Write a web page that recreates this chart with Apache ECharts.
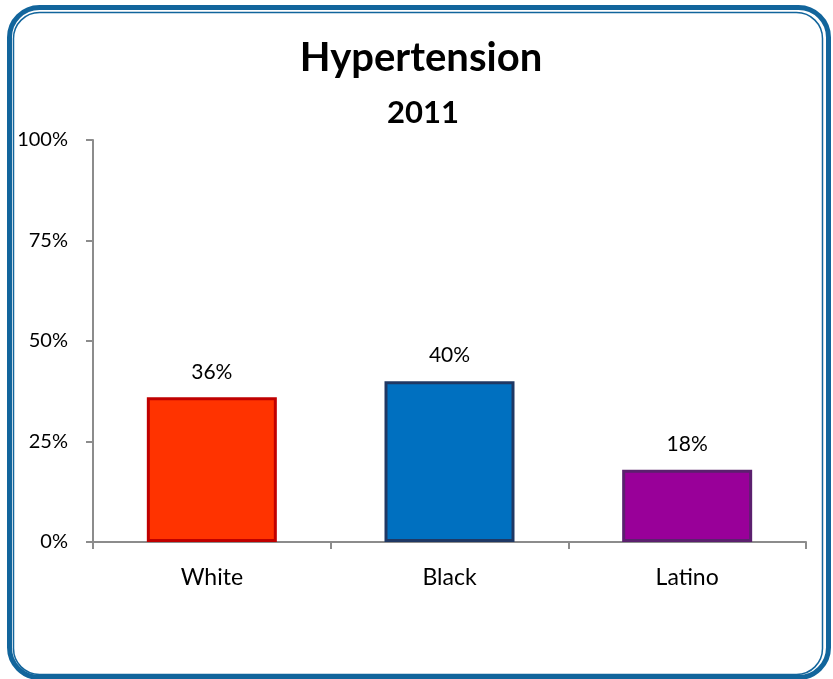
<!DOCTYPE html>
<html lang="en">
  <head>
    <meta charset="UTF-8" />
    <title>Hypertension 2011</title>
    <script src="https://cdn.jsdelivr.net/npm/echarts@6/dist/echarts.min.js"></script>
    <style>
      html, body { margin: 0; padding: 0; background: #fff; }
      #chart { width: 833px; height: 679px; }
    </style>
  </head>
  <body>
    <div id="chart"></div>
    <script>
      var categories = ['White', 'Black', 'Latino'];
      var values = [36, 40, 18];
      var fillColors = ['#FF3300', '#0070C0', '#990099'];
      var borderColors = ['#C00000', '#1F3864', '#5B206E'];
      var yTicks = [0, 25, 50, 75, 100];

      var chart = echarts.init(document.getElementById('chart'));
      var fontName = 'Lato';

      var barData = function () {
        var out = [];
        for (var i = 0; i < values.length; i += 1) {
          out.push({
            value: values[i],
            itemStyle: { color: fillColors[i], borderColor: borderColors[i], borderWidth: 3 }
          });
        }
        return out;
      };

      var option = {
        animation: false,
        backgroundColor: '#fff',
        title: [
          {
            text: 'Hypertension',
            left: 416,
            textAlign: 'center',
            top: 33,
            textStyle: { fontFamily: fontName, fontSize: 40, fontWeight: 'bold', color: '#000' }
          },
          {
            text: '2011',
            left: 418,
            textAlign: 'center',
            top: 92,
            textStyle: { fontFamily: fontName, fontSize: 31, fontWeight: 'bold', color: '#000' }
          }
        ],
        graphic: [
          {
            type: 'rect',
            shape: { x: 9.5, y: 7.5, width: 819, height: 670, r: 30 },
            style: { fill: 'none', stroke: '#12659C', lineWidth: 5 },
            silent: true
          },
          {
            type: 'rect',
            shape: { x: 13.5, y: 12.5, width: 809, height: 662, r: 26 },
            style: { fill: 'none', stroke: '#12659C', lineWidth: 1.5 },
            silent: true
          }
        ],
        grid: { left: 93, right: 27, top: 140, bottom: 137 },
        xAxis: {
          type: 'category',
          data: categories,
          axisLine: { lineStyle: { color: '#8C8C8C', width: 2 } },
          axisTick: { show: true, length: 7, lineStyle: { color: '#8C8C8C', width: 2 } },
          axisLabel: { fontFamily: fontName, fontSize: 23, color: '#000', margin: 24 }
        },
        yAxis: {
          type: 'value',
          min: 0,
          max: 100,
          interval: 25,
          splitLine: { show: false },
          axisLine: { show: true, lineStyle: { color: '#8C8C8C', width: 2 } },
          axisTick: { show: true, length: 7, lineStyle: { color: '#8C8C8C', width: 2 } },
          axisLabel: {
            fontFamily: fontName,
            fontSize: 20,
            color: '#000',
            margin: 25,
            formatter: function (v) {
              return yTicks.indexOf(v) >= 0 ? v + '%' : '';
            }
          }
        },
        series: [
          {
            type: 'bar',
            barWidth: 130,
            data: barData(),
            label: {
              show: true,
              position: 'top',
              distance: 15,
              fontFamily: fontName,
              fontSize: 21,
              color: '#000',
              formatter: function (p) {
                return p.value + '%';
              }
            }
          }
        ]
      };

      chart.setOption(option);
    </script>
  </body>
</html>
